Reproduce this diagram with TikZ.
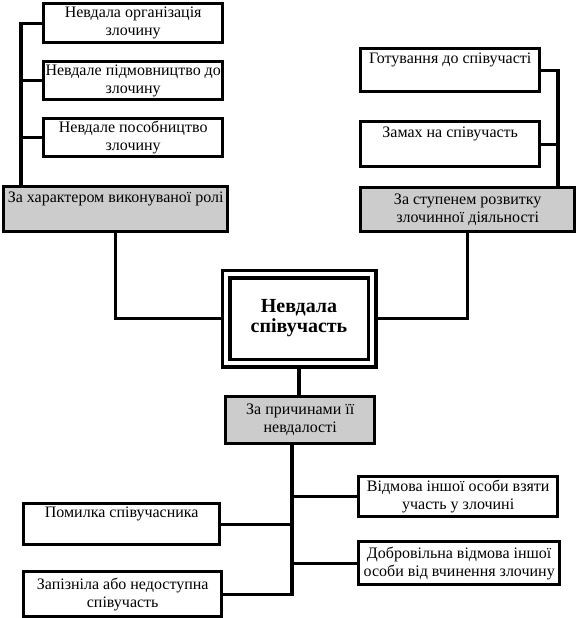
\documentclass[tikz,border=0pt]{standalone}
\usepackage{fontspec}
\setmainfont{Liberation Serif}
\definecolor{siryjFon}{RGB}{204,204,204}

\begin{document}
\begin{tikzpicture}[x=1pt, y=-1pt,
    blok/.style={rectangle, draw, line width=3.4pt, fill=white, anchor=north west, align=center, inner sep=1pt, font=\fontsize{16}{18}\selectfont},
    sirij/.style={blok, fill=siryjFon},
    holovnyj/.style={rectangle, draw, line width=3.8pt, double=white, double distance=3.4pt, outer sep=5.5pt, anchor=north west, align=center, font=\fontsize{20}{20}\selectfont\bfseries},
    liniya/.style={line width=3.2pt}]

    \useasboundingbox (0,0) rectangle (580,618);

    \node[blok, minimum width=179pt, minimum height=39pt] (orh) at (42,2) {Невдала організація\\злочину};
    \node[blok, minimum width=179pt, minimum height=38pt] (pidm) at (42,60) {Невдале підмовництво до\\злочину};
    \node[blok, minimum width=179pt, minimum height=38pt] (posob) at (42,117) {Невдале пособництво\\злочину};
    \node[sirij, minimum width=224pt, minimum height=45pt] (rolja) at (2,185) {За характером виконуваної ролі\\\strut};

    \node[blok, minimum width=179pt, minimum height=43pt] (hotuv) at (359,47) {Готування до співучасті\\\strut};
    \node[blok, minimum width=179pt, minimum height=45pt] (zamah) at (359,120) {Замах на співучасть\\\strut};
    \node[sirij, minimum width=214pt, minimum height=44pt] (stup) at (359,186) {За ступенем розвитку\\злочинної діяльності};

    \node[holovnyj, minimum width=146pt, minimum height=89pt] (main) at (220.5,268.5) {Невдала\\співучасть};

    \node[sirij, minimum width=149pt, minimum height=47pt] (prych) at (224,395) {За причинами її\\невдалості};

    \node[blok, minimum width=199pt, minimum height=40pt] (vidm) at (357,475) {Відмова іншої особи взяти\\участь у злочині};
    \node[blok, minimum width=196pt, minimum height=41pt] (pomyl) at (22,502) {Помилка співучасника\\\strut};
    \node[blok, minimum width=201pt, minimum height=43pt] (dobr) at (357,540) {Добровільна відмова іншої\\особи від вчинення злочину};
    \node[blok, minimum width=198pt, minimum height=45pt] (zapiz) at (22,570) {Запізніла або недоступна\\співучасть};

    \coordinate (liva) at (21,0);
    \coordinate (prava) at (558,0);
    \coordinate (nyz) at (292,0);

    \draw[liniya] (orh.west) -| (rolja.north -| liva);
    \draw[liniya] (pidm.west) -- (pidm.west -| liva);
    \draw[liniya] (posob.west) -- (posob.west -| liva);

    \draw[liniya] (hotuv.east) -| (stup.north -| prava);
    \draw[liniya] (zamah.east) -- (zamah.east -| prava);

    \draw[liniya] (rolja.south) |- (main.west);
    \draw[liniya] (stup.south) |- (main.east);
    \draw[liniya] (main.south) -- (main.south |- prych.north);

    \draw[liniya] (zapiz.east) -| (prych.south -| nyz);
    \draw[liniya] (vidm.west) -- (vidm.west -| nyz);
    \draw[liniya] (pomyl.east) -- (pomyl.east -| nyz);
    \draw[liniya] (dobr.west) -- (dobr.west -| nyz);
\end{tikzpicture}
\end{document}
